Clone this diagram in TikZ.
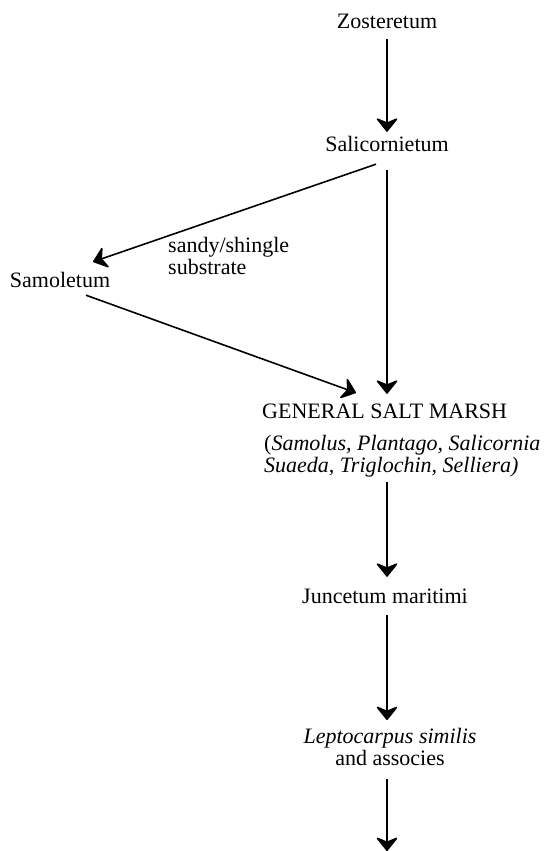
\documentclass[tikz,border=0pt]{standalone}
\usepackage{fontspec}
\setmainfont{Liberation Serif}
\usetikzlibrary{arrows.meta,calc}
\begin{document}
\begin{tikzpicture}[x=1pt,y=-1pt,
  lbl/.style={inner sep=0pt, font=\fontsize{22}{22}\selectfont, text height=15.5pt, text depth=4.5pt},
  multi/.style={inner sep=0pt, font=\fontsize{22}{22}\selectfont},
  arr/.style={line width=1.6pt, -{Stealth[length=15pt,width=24pt,inset=5pt,round]}}]
\useasboundingbox (0,0) rectangle (544,851);
\node[lbl] (zos) at (387,23) {Zosteretum};
\node[lbl] (sal) at (387,146) {Salicornietum};
\node[lbl] (samol) at (60,282) {Samoletum};
\node[multi, align=left, anchor=west] (sandy) at (168,256) {sandy/shingle\\substrate};
\node[lbl, anchor=west] (gsm) at (262,413) {GENERAL SALT MARSH};
\node[multi, align=left, anchor=west] (gsmsp) at (264,456) {(\textit{Samolus, Plantago, Salicornia}\\\textit{Suaeda, Triglochin, Selliera)}};
\node[lbl] (jun) at (385,598) {Juncetum maritimi};
\node[multi, align=center] (lep) at (390,747) {\textit{Leptocarpus similis}\\and associes};
\coordinate (end) at (387,851);

\draw[arr, shorten <=6pt, shorten >=4pt] (zos) -- (sal);
\draw[arr, shorten <=14pt, shorten >=9pt] (sal.south) -- (sal.south |- gsm.north);
\draw[arr] ([xshift=-11pt, yshift=-8pt]sal.south) -- ([xshift=33pt, yshift=10pt]samol.north);
\draw[arr] ([xshift=26pt, yshift=-3pt]samol.south) -- ([xshift=94pt, yshift=10pt]gsm.north west);
\draw[arr, shorten <=5pt, shorten >=11pt] (gsmsp.south -| sal.south) -- (jun.north -| sal.south);
\draw[arr, shorten <=7pt, shorten >=8pt] (jun.south -| sal.south) -- (lep.north -| sal.south);
\draw[arr, shorten <=13pt] (lep.south -| end) -- (end);
\end{tikzpicture}
\end{document}
